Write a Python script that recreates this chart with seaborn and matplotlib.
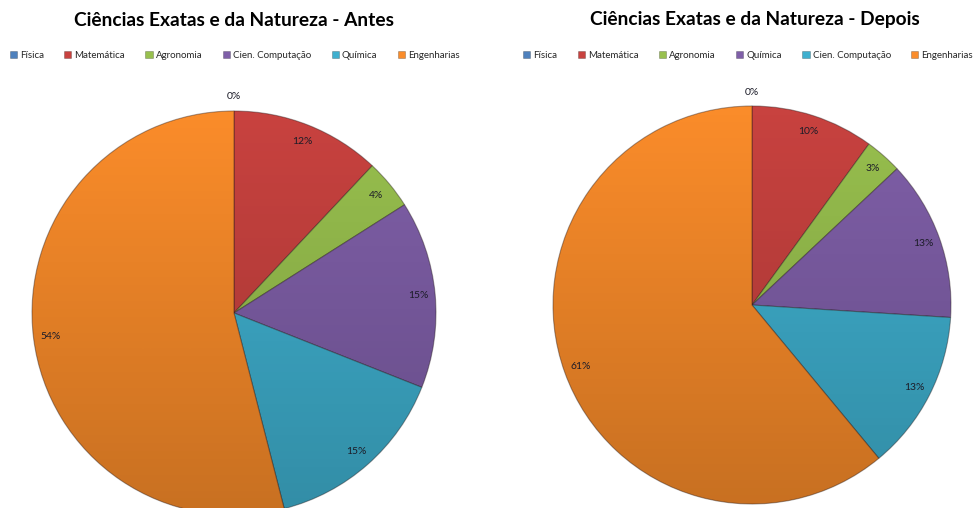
import numpy as np
import matplotlib
matplotlib.use("Agg")
import matplotlib.pyplot as plt
from matplotlib.patches import Patch, Circle
from matplotlib.colors import LinearSegmentedColormap
import seaborn as sns

# Participação por área (%)
areas_antes = ["Física", "Matemática", "Agronomia", "Cien. Computação", "Química", "Engenharias"]
pct_antes = [0, 12, 4, 15, 15, 54]

areas_depois = ["Física", "Matemática", "Agronomia", "Química", "Cien. Computação", "Engenharias"]
pct_depois = [0, 10, 3, 13, 13, 61]

titulos = ["Ciências Exatas e da Natureza - Antes", "Ciências Exatas e da Natureza - Depois"]

cores = ["#4F81BD", "#C8423F", "#98C04E", "#7F5FA8", "#3FB0CF", "#FA8C2A"]

sns.set_theme(style="white")
plt.rcParams["font.family"] = ["Lato", "DejaVu Sans"]

W, H = 976, 508
fig = plt.figure(figsize=(W / 100, H / 100), dpi=100)
fig.patch.set_facecolor("white")

# (centro x, centro y, raio) em pixels, título x, âncora da legenda
layouts = [
    (234, 313, 202, 234, ("center", 234.5)),
    (752, 305, 199, 755, ("center right", 973)),
]

shade = LinearSegmentedColormap.from_list(
    "shade", [(0, 0, 0, 0.0), (0, 0, 0, 0.20)]
)


def draw_pie(ax, areas, valores, titulo, cx_title, leg):
    wedges, _ = ax.pie(
        valores,
        colors=cores,
        startangle=90,
        counterclock=False,
        radius=1,
        wedgeprops=dict(edgecolor=(0.15, 0.1, 0.1, 0.4), linewidth=0.8),
    )
    # escurecimento vertical (mais claro no topo)
    grad = np.linspace(0, 1, 256).reshape(-1, 1)
    im = ax.imshow(grad, extent=(-1, 1, -1, 1), origin="upper", cmap=shade,
                   aspect="auto", zorder=3, interpolation="bicubic")
    clip = Circle((0, 0), 1, transform=ax.transData)
    im.set_clip_path(clip)

    # rótulos de porcentagem
    for w, v in zip(wedges, valores):
        ang = np.deg2rad((w.theta1 + w.theta2) / 2)
        dist = 1.07 if v == 0 else 0.915
        ax.text(dist * np.cos(ang), dist * np.sin(ang), f"{v}%",
                ha="center", va="center", fontsize=7.5, color="#1c1c28", zorder=5)

    ax.set_xlim(-1, 1)
    ax.set_ylim(-1, 1)
    ax.set_aspect("equal")
    ax.axis("off")

    fig.text(cx_title / W, 1 - 20 / H, titulo, ha="center", va="center",
             fontsize=13.8, fontweight="bold", color="black")
    handles = [Patch(facecolor=c, edgecolor=(0, 0, 0, 0.3), linewidth=0.5) for c in cores]
    loc, lx = leg
    fig.legend(handles, areas, loc=loc, bbox_to_anchor=(lx / W, 1 - 55 / H),
               ncol=6, frameon=False, fontsize=7, handlelength=0.75, handleheight=0.75,
               handletextpad=0.3, columnspacing=2.1, borderaxespad=0, borderpad=0)


for (cx, cy, r, tx, leg), areas, vals, tit in zip(
        layouts, [areas_antes, areas_depois], [pct_antes, pct_depois], titulos):
    ax = fig.add_axes([(cx - r) / W, (H - cy - r) / H, 2 * r / W, 2 * r / H])
    draw_pie(ax, areas, vals, tit, tx, leg)

fig.savefig("out.png", dpi=100, facecolor="white")
